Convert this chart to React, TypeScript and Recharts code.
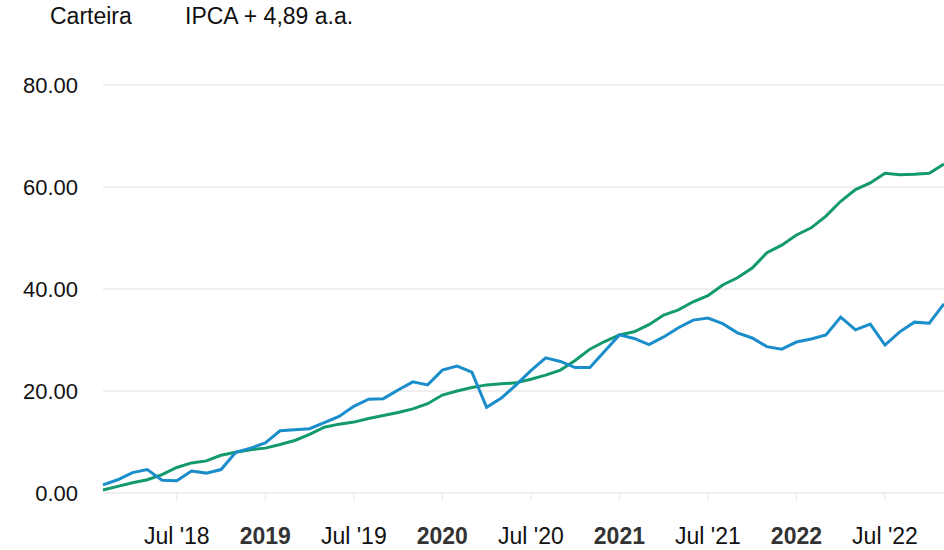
import React from "react";
import { CartesianGrid, Legend, Line, LineChart, XAxis, YAxis } from "recharts";

const months = [
  "2018-02", "2018-03", "2018-04", "2018-05", "2018-06", "2018-07", "2018-08", "2018-09", "2018-10", "2018-11", "2018-12",
  "2019-01", "2019-02", "2019-03", "2019-04", "2019-05", "2019-06", "2019-07", "2019-08", "2019-09", "2019-10", "2019-11", "2019-12",
  "2020-01", "2020-02", "2020-03", "2020-04", "2020-05", "2020-06", "2020-07", "2020-08", "2020-09", "2020-10", "2020-11", "2020-12",
  "2021-01", "2021-02", "2021-03", "2021-04", "2021-05", "2021-06", "2021-07", "2021-08", "2021-09", "2021-10", "2021-11", "2021-12",
  "2022-01", "2022-02", "2022-03", "2022-04", "2022-05", "2022-06", "2022-07", "2022-08", "2022-09", "2022-10", "2022-11",
];

const carteira = [
  1.6, 2.6, 4.0, 4.6, 2.5, 2.4, 4.3, 3.9, 4.6, 8.0, 8.8,
  9.8, 12.2, 12.4, 12.6, 13.8, 15.0, 17.0, 18.4, 18.5, 20.2, 21.8, 21.2,
  24.1, 24.9, 23.7, 16.8, 18.6, 21.2, 24.0, 26.5, 25.8, 24.6, 24.6, 27.8,
  31.0, 30.3, 29.1, 30.6, 32.4, 33.9, 34.3, 33.2, 31.4, 30.4, 28.7, 28.2,
  29.6, 30.2, 31.0, 34.5, 32.0, 33.1, 29.0, 31.6, 33.5, 33.3, 37.1,
];

const ipca = [
  0.6, 1.3, 2.0, 2.6, 3.6, 5.0, 5.9, 6.3, 7.4, 8.0, 8.5,
  8.8, 9.5, 10.3, 11.5, 12.9, 13.5, 13.9, 14.6, 15.2, 15.8, 16.5, 17.5,
  19.2, 20.0, 20.7, 21.2, 21.4, 21.6, 22.3, 23.1, 24.1, 26.0, 28.2, 29.7,
  31.0, 31.6, 33.0, 34.9, 35.9, 37.5, 38.7, 40.8, 42.2, 44.1, 47.1, 48.6,
  50.6, 52.0, 54.3, 57.2, 59.5, 60.8, 62.7, 62.4, 62.5, 62.7, 64.5,
];

const tickMonths = ["2018-07", "2019-01", "2019-07", "2020-01", "2020-07", "2021-01", "2021-07", "2022-01", "2022-07"];
const tickLabels = ["Jul '18", "2019", "Jul '19", "2020", "Jul '20", "2021", "Jul '21", "2022", "Jul '22"];
const yTicks = [0, 20, 40, 60, 80];

const data = months.map((m, i) => ({ month: m, carteira: carteira[i], ipca: ipca[i] }));

const FONT = "'Liberation Sans', Arial, sans-serif";

const XTick = (props: any) => {
  const { x, y, payload } = props;
  const label = tickLabels[tickMonths.indexOf(payload.value)] ?? "";
  const isYear = !label.startsWith("Jul");
  return (
    <text
      x={x}
      y={y}
      dy="0.71em"
      textAnchor="middle"
      fill={isYear ? "#333" : "#111"}
      fontSize={23}
      fontWeight={isYear ? "bold" : "normal"}
      fontFamily={FONT}
    >
      {label}
    </text>
  );
};

const LegendText = () => (
  <div style={{ position: "relative", height: 34, fontFamily: FONT, fontSize: 23, color: "#111" }}>
    <span style={{ position: "absolute", left: 50, top: 3 }}>Carteira</span>
    <span style={{ position: "absolute", left: 185, top: 3 }}>IPCA + 4,89 a.a.</span>
  </div>
);

export default function App() {
  return (
    <div style={{ position: "absolute", left: 0, top: 0, background: "#fff" }}>
      <LineChart width={944} height={550} data={data} margin={{ top: 51, right: 0, bottom: 0, left: 0 }}>
        <Legend
          verticalAlign="top"
          align="left"
          content={<LegendText />}
          wrapperStyle={{ top: 0, left: 0, width: 944 }}
        />
        <CartesianGrid vertical={false} stroke="#efefef" strokeWidth={2} />
        <XAxis
          dataKey="month"
          ticks={tickMonths}
          interval={0}
          height={57}
          axisLine={false}
          tickSize={8}
          tickMargin={27}
          tickLine={{ stroke: "#e8e8e8" }}
          tick={<XTick />}
        />
        <YAxis
          width={103}
          domain={[0, 80]}
          ticks={yTicks}
          axisLine={false}
          tickLine={false}
          tickSize={0}
          tickMargin={25}
          tickFormatter={(v: number) => v.toFixed(2)}
          tick={{ fill: "#111", fontSize: 22, fontFamily: FONT }}
        />
        <Line
          type="linear"
          dataKey="ipca"
          name="IPCA + 4,89 a.a."
          stroke="#12996c"
          strokeWidth={3}
          dot={false}
          isAnimationActive={false}
        />
        <Line
          type="linear"
          dataKey="carteira"
          name="Carteira"
          stroke="#1a8dcb"
          strokeWidth={3}
          dot={false}
          isAnimationActive={false}
        />
      </LineChart>
    </div>
  );
}
